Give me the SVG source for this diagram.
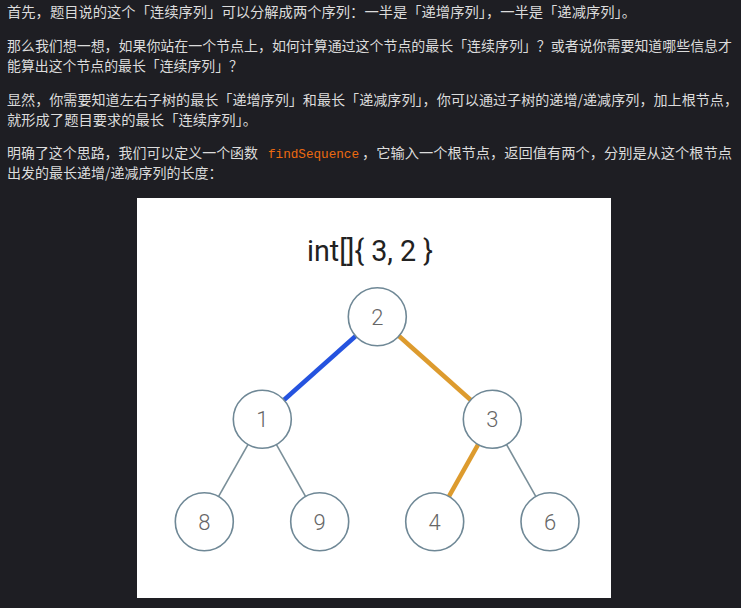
<svg xmlns="http://www.w3.org/2000/svg" width="741" height="608" viewBox="0 0 741 608">
  <style>
    .p { font-family: "Noto Sans CJK SC", "Noto Sans", sans-serif; font-size: 14px; fill: #dcdcdc; }
    .code { font-family: "Liberation Mono", "DejaVu Sans Mono", monospace; font-size: 13.5px; fill: #ec6a10; }
    .title { font-family: Roboto, "Liberation Sans", Arial, sans-serif; font-weight: 400; font-size: 29px; fill: #222222; }
    .node circle { fill: #ffffff; stroke: #6f8896; stroke-width: 1.6; }
    .node text { font-family: Roboto, "Liberation Sans", Arial, sans-serif; font-weight: 300; font-size: 22px; fill: #666666; text-anchor: middle; }
    .thin { stroke: #7a8f99; stroke-width: 1.6; }
    .blue { stroke: #2553df; stroke-width: 4.5; }
    .orange { stroke: #dd9b2e; stroke-width: 4.5; }
  </style>
  <rect x="0" y="0" width="741" height="608" fill="#1e1e23"/>
  <g id="text">
    <text class="p" x="7" y="17" textLength="629" lengthAdjust="spacingAndGlyphs">首先，题目说的这个「连续序列」可以分解成两个序列：一半是「递增序列」，一半是「递减序列」。</text>
    <text class="p" x="7" y="50.5" textLength="725" lengthAdjust="spacingAndGlyphs">那么我们想一想，如果你站在一个节点上，如何计算通过这个节点的最长「连续序列」？或者说你需要知道哪些信息才</text>
    <text class="p" x="7" y="70.5" textLength="236" lengthAdjust="spacingAndGlyphs">能算出这个节点的最长「连续序列」？</text>
    <text class="p" x="7" y="104.5" textLength="731" lengthAdjust="spacingAndGlyphs">显然，你需要知道左右子树的最长「递增序列」和最长「递减序列」，你可以通过子树的递增/递减序列，加上根节点，</text>
    <text class="p" x="7" y="124.5" textLength="250" lengthAdjust="spacingAndGlyphs">就形成了题目要求的最长「连续序列」。</text>
    <text class="p" x="7" y="158" textLength="251" lengthAdjust="spacingAndGlyphs">明确了这个思路，我们可以定义一个函数</text>
    <text class="code" x="268" y="158" textLength="91" lengthAdjust="spacingAndGlyphs">findSequence</text>
    <text class="p" x="362" y="158" textLength="370" lengthAdjust="spacingAndGlyphs">，它输入一个根节点，返回值有两个，分别是从这个根节点</text>
    <text class="p" x="7" y="178">出发的最长递增/递减序列的长度：</text>
  </g>
  <rect x="137" y="198" width="474" height="400" fill="#ffffff"/>
  <text class="title" x="307" y="261" textLength="126" lengthAdjust="spacingAndGlyphs">int[]{ 3, 2 }</text>
  <g id="connectors">
    <line class="blue" x1="377.3" y1="316.7" x2="262.3" y2="419.3"/>
    <line class="orange" x1="377.3" y1="316.7" x2="492.3" y2="419.3"/>
    <line class="thin" x1="262.3" y1="419.3" x2="204.3" y2="521.7"/>
    <line class="thin" x1="262.3" y1="419.3" x2="319.7" y2="521.7"/>
    <line class="orange" x1="492.3" y1="419.3" x2="434.7" y2="521.7"/>
    <line class="thin" x1="492.3" y1="419.3" x2="550" y2="521.7"/>
  </g>
  <g id="node-2" class="node"><circle cx="377.3" cy="316.7" r="29"/><text x="377.3" y="324.6">2</text></g>
  <g id="node-1" class="node"><circle cx="262.3" cy="419.3" r="29"/><text x="262.3" y="427.2">1</text></g>
  <g id="node-3" class="node"><circle cx="492.3" cy="419.3" r="29"/><text x="492.3" y="427.2">3</text></g>
  <g id="node-8" class="node"><circle cx="204.3" cy="521.7" r="29"/><text x="204.3" y="529.6">8</text></g>
  <g id="node-9" class="node"><circle cx="319.7" cy="521.7" r="29"/><text x="319.7" y="529.6">9</text></g>
  <g id="node-4" class="node"><circle cx="434.7" cy="521.7" r="29"/><text x="434.7" y="529.6">4</text></g>
  <g id="node-6" class="node"><circle cx="550" cy="521.7" r="29"/><text x="550" y="529.6">6</text></g>
</svg>
